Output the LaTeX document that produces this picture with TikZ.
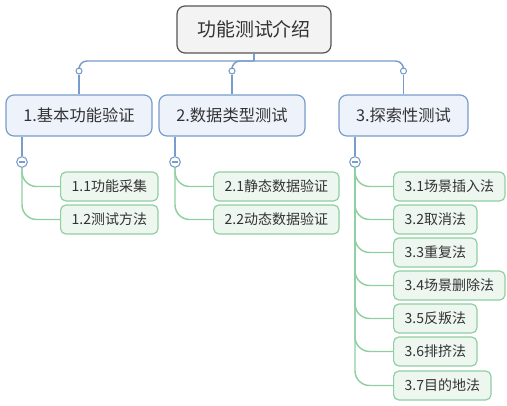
\documentclass[tikz,border=0pt]{standalone}
\usepackage{fontspec}
\setmainfont{Noto Sans CJK SC}

\definecolor{rootfill}{HTML}{F3F3F3}
\definecolor{rootline}{HTML}{555555}
\definecolor{topicfill}{HTML}{EEF3FB}
\definecolor{topicline}{HTML}{789CCB}
\definecolor{subfill}{HTML}{EEF6F0}
\definecolor{subline}{HTML}{8FCFA1}
\definecolor{txt}{HTML}{333333}

\begin{document}
\begin{tikzpicture}[x=0.75pt,y=-0.75pt,
  rootbox/.style={draw=rootline,fill=rootfill,line width=0.9pt,rounded corners=6pt,
    text=txt,font=\fontsize{14.2pt}{16pt}\selectfont,minimum height=35.25pt,inner sep=0pt},
  topicbox/.style={draw=topicline,fill=topicfill,line width=0.9pt,rounded corners=6pt,
    text=txt,font=\fontsize{12.2pt}{14pt}\selectfont,minimum height=30.75pt,inner sep=0pt},
  subbox/.style={draw=subline,fill=subfill,line width=0.9pt,rounded corners=4pt,anchor=west,
    text=txt,font=\fontsize{10.5pt}{12pt}\selectfont,minimum height=21.75pt,inner xsep=8.25pt,inner ysep=0pt},
  topicwire/.style={draw=topicline,line width=1.1pt},
  subwire/.style={draw=subline,line width=1.1pt,rounded corners=11pt},
  knob/.style={circle,draw=topicline,fill=white,line width=0.8pt,inner sep=0pt,minimum size=4.5pt},
  fold/.style={circle,draw=topicline,fill=white,line width=0.8pt,inner sep=0pt,minimum size=8pt,
    path picture={\draw[topicline,line width=0.8pt]
      ([xshift=-2.2pt]path picture bounding box.center) -- ([xshift=2.2pt]path picture bounding box.center);}}]
  \useasboundingbox (0,0) rectangle (507,405);

  % root and main topics
  \node[rootbox,minimum width=115.5pt] (root) at (254,29.5) {功能测试介绍};
  \node[topicbox,minimum width=109.5pt] (basic) at (79,115.5) {1.基本功能验证};
  \node[topicbox,minimum width=109.5pt] (datatype) at (232,115.5) {2.数据类型测试};
  \node[topicbox,minimum width=96.75pt] (explore) at (403.5,115.5) {3.探索性测试};

  \coordinate (hub) at (254,61);
  \node[knob] (k1) at (79,71) {};
  \node[knob] (k2) at (232,71) {};
  \node[knob] (k3) at (403.5,71) {};
  \draw[topicwire] (root.south) -- (hub);
  \draw[topicwire,rounded corners=6pt] (k1.north) |- (hub) -| (k3.north);
  \draw[topicwire,rounded corners=6pt] (k2.north) |- (hub);
  \foreach \k/\t in {k1/basic,k2/datatype,k3/explore}
    \draw[topicwire] (\k.south) -- (\t.north);

  % fold buttons
  \node[fold] (f1) at (22,162) {};
  \node[fold] (f2) at (175,162) {};
  \node[fold] (f3) at (355,162) {};
  \draw[topicwire] (basic.south -| f1) -- (f1.north);
  \draw[topicwire] (datatype.south -| f2) -- (f2.north);
  \draw[topicwire] (explore.south -| f3) -- (f3.north);

  % subtopics
  \node[subbox] (s11) at (60,186.5) {1.1功能采集};
  \node[subbox] (s12) at (60,219.5) {1.2测试方法};
  \node[subbox] (s21) at (213,186.5) {2.1静态数据验证};
  \node[subbox] (s22) at (213,219.5) {2.2动态数据验证};
  \node[subbox] (s31) at (393,186.5) {3.1场景插入法};
  \node[subbox] (s32) at (393,219.5) {3.2取消法};
  \node[subbox] (s33) at (393,252.5) {3.3重复法};
  \node[subbox] (s34) at (393,285.5) {3.4场景删除法};
  \node[subbox] (s35) at (393,318.5) {3.5反叛法};
  \node[subbox] (s36) at (393,351.5) {3.6排挤法};
  \node[subbox] (s37) at (393,385.5) {3.7目的地法};

  \foreach \s in {s11,s12}
    \draw[subwire] (f1.south) |- (\s.west);
  \foreach \s in {s21,s22}
    \draw[subwire] (f2.south) |- (\s.west);
  \foreach \s in {s31,s32,s33,s34,s35,s36,s37}
    \draw[subwire] (f3.south) |- (\s.west);
\end{tikzpicture}
\end{document}
